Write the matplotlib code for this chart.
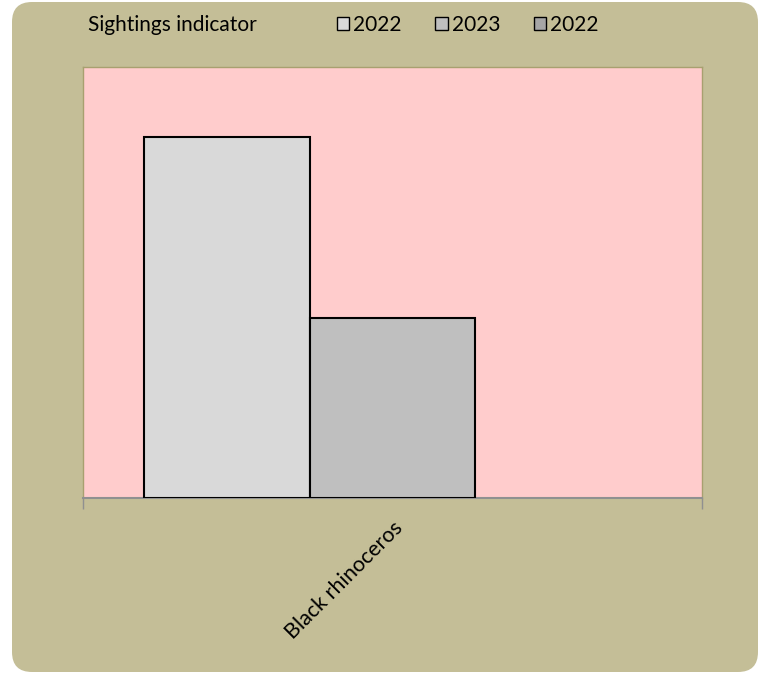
import matplotlib.pyplot as plt
import numpy as np
from matplotlib.patches import FancyBboxPatch, Patch

categories = ['Black rhinoceros']
series_names = ['2022', '2023', '2022']
values = [10, 5, 0]
bar_colors = ['#D9D9D9', '#BFBFBF', '#A6A6A6']
ymax = 11.95

plt.rcParams['font.family'] = ['Lato', 'DejaVu Sans']

fig = plt.figure(figsize=(7.68, 6.73), dpi=100)
fig.patch.set_facecolor('white')

# rounded olive background
bg = FancyBboxPatch((0.12, 0.01), 7.46, 6.70,
                    boxstyle='round,pad=0,rounding_size=0.2',
                    transform=fig.dpi_scale_trans,
                    facecolor='#C4BE97', edgecolor='none', zorder=-10)
fig.patches.append(bg)

ax = fig.add_axes([0.1081, 0.26, 0.806, 0.6404])
ax.set_facecolor('#FFCCCC')

x = np.arange(len(categories))
w = 0.803 / 3
for i, (name, val) in enumerate(zip(series_names, values)):
    ax.bar(x + (i - 1) * w, [val], width=w, color=bar_colors[i],
           edgecolor='black', linewidth=1.5 if val else 0, zorder=3)

ax.set_xlim(-0.5, 0.5)
ax.set_ylim(0, ymax)
ax.set_yticks([])
ax.set_xticks(x)
ax.set_xticklabels(categories, rotation=45, ha='right', rotation_mode='anchor',
                   fontsize=15.5)
ax.tick_params(axis='x', which='major', length=0, pad=14)
ax.set_xticks([-0.5, 0.5], minor=True)
ax.tick_params(axis='x', which='minor', length=8, color='#909090', width=1)

for s in ['left', 'top', 'right']:
    ax.spines[s].set_color('#A8A070')
    ax.spines[s].set_linewidth(1)
ax.spines['bottom'].set_color('#909090')
ax.spines['bottom'].set_linewidth(1.5)

fig.text(88 / 768, 1 - 25 / 673, 'Sightings indicator', fontsize=15,
         ha='left', va='center')

handles = [Patch(facecolor=c, edgecolor='black', linewidth=1) for c in bar_colors]
fig.legend(handles, series_names, ncol=3, loc='center left',
           bbox_to_anchor=(318 / 768, 1 - 25 / 673), frameon=False,
           fontsize=15, handlelength=0.6, handleheight=0.6,
           handletextpad=0.2, columnspacing=1.6)

fig.savefig('out.png', dpi=100, facecolor=fig.get_facecolor())
